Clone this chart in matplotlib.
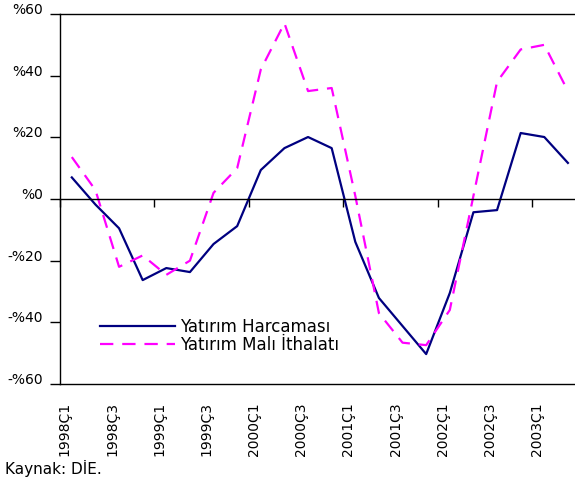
import numpy as np
import matplotlib.pyplot as plt

# Quarterly series, 1998Q1 - 2003Q2 (values in %)
quarters = ["1998Ç1", "1998Ç2", "1998Ç3", "1998Ç4",
            "1999Ç1", "1999Ç2", "1999Ç3", "1999Ç4",
            "2000Ç1", "2000Ç2", "2000Ç3", "2000Ç4",
            "2001Ç1", "2001Ç2", "2001Ç3", "2001Ç4",
            "2002Ç1", "2002Ç2", "2002Ç3", "2002Ç4",
            "2003Ç1", "2003Ç2"]

harcama = [7, -1.8, -9.5, -26.3, -22.4, -23.7, -14.6, -8.8,
           9.4, 16.5, 20.1, 16.5, -13.9, -32.1, -41.2, -50.3,
           -30.5, -4.3, -3.6, 21.4, 20.1, 11.7]

ithalat = [13.6, 2.9, -22, -18.3, -24.6, -20, 2, 10,
           42, 57, 35, 36, 1, -37, -46.6, -47.4,
           -36, 1, 38, 48.5, 50, 35]

yticks = [-60, -40, -20, 0, 20, 40, 60]
ytick_labels = ["-%60", "-%40", "-%20", "%0", "%20", "%40", "%60"]

x = np.arange(len(quarters))

fig = plt.figure(figsize=(5.75, 4.83), dpi=100)
ax = fig.add_axes([60/575, 99/483, 515/575, 370/483])

ax.plot(x, harcama, color="#000080", lw=1.6, label="Yatırım Harcaması")
ax.plot(x, ithalat, color="#FF00FF", lw=1.6, dashes=(6, 4),
        label="Yatırım Malı İthalatı")

ax.set_ylim(-60, 60)
ax.set_xlim(-0.5, 21.3)

# y axis
ax.set_yticks(yticks, ytick_labels, fontsize=10)
ax.tick_params(axis="y", direction="out", length=7, pad=5.5, width=1)
for lbl in ax.get_yticklabels():
    lbl.set_va("baseline")

# category axis sits on the zero line, ticks every 4 quarters between categories
ax.spines["bottom"].set_position(("data", 0))
ax.spines["right"].set_visible(False)
ax.set_xticks(np.arange(-0.5, len(quarters), 4))
ax.tick_params(axis="x", direction="out", length=6, labelbottom=False, width=1)

# labels at the bottom of the plot area
sec = ax.secondary_xaxis(0.0)
sec.set_xticks(x[::2], quarters[::2], rotation=90, fontsize=10,
               ha="right", va="top")
sec.tick_params(length=0, pad=13)

for s in ["left", "top", "bottom"]:
    ax.spines[s].set_linewidth(1)
sec.spines["bottom"].set_linewidth(1)

ax.legend(loc="upper left", bbox_to_anchor=(0.078, 0.178), frameon=False,
          fontsize=12, handlelength=4.5, handletextpad=0.3,
          borderpad=0, borderaxespad=0, labelspacing=0.0)

fig.text(0.008, 15/483, "Kaynak: DİE.", fontsize=11, va="center", ha="left")

fig.savefig("out.png", dpi=100)
